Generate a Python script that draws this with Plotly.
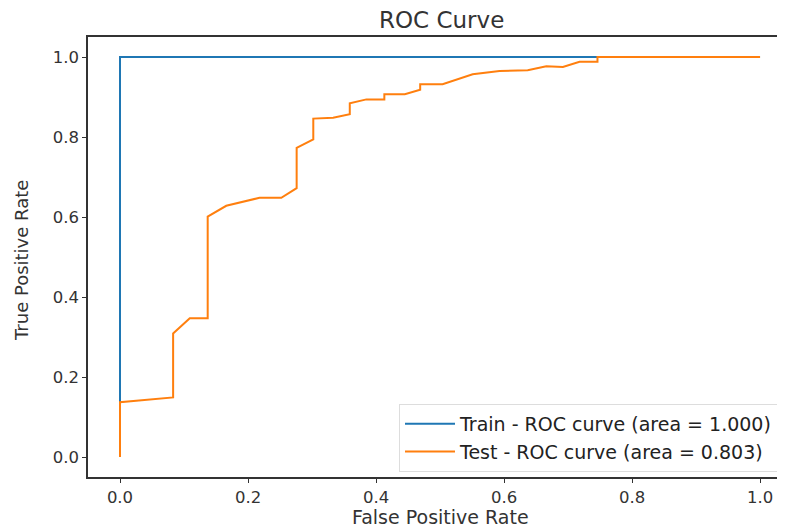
import plotly.graph_objects as go

train_fpr = [0.0, 0.0, 1.0]
train_tpr = [0.0, 1.0, 1.0]

test_fpr = [0.0, 0.0, 0.083, 0.083, 0.109, 0.137, 0.137, 0.166, 0.218, 0.252, 0.276, 0.276,
            0.302, 0.302, 0.333, 0.359, 0.359, 0.385, 0.413, 0.413, 0.445, 0.469, 0.469,
            0.504, 0.551, 0.593, 0.637, 0.666, 0.692, 0.718, 0.746, 0.746, 1.0]
test_tpr = [0.0, 0.137, 0.149, 0.309, 0.347, 0.347, 0.601, 0.628, 0.648, 0.648, 0.672, 0.773,
            0.794, 0.846, 0.848, 0.857, 0.884, 0.894, 0.894, 0.907, 0.907, 0.918, 0.932,
            0.932, 0.957, 0.965, 0.967, 0.977, 0.975, 0.988, 0.988, 1.0, 1.0]

train_label = "Train - ROC curve (area = 1.000)"
test_label = "Test - ROC curve (area = 0.803)"
tick_vals = [0.0, 0.2, 0.4, 0.6, 0.8, 1.0]
tick_text = ["0.0", "0.2", "0.4", "0.6", "0.8", "1.0"]

font = "DejaVu Sans"
W, H = 785, 529
OFF = 8  # page body margin in the browser
# target positions in screenshot pixels
PL, PR, PT, PB = 88, 785, 37, 477
L, T = PL - OFF, PT - OFF
R = W - (PR - OFF)
B = H - (PB - OFF)
PW, PH = W - L - R, H - T - B


def px_to_paper(sx, sy):
    fx, fy = sx - OFF, sy - OFF
    return (fx - L) / PW, (H - B - fy) / PH


fig = go.Figure()
fig.add_trace(go.Scatter(x=train_fpr, y=train_tpr, mode="lines", name=train_label,
                         line=dict(color="#1f77b4", width=2)))
fig.add_trace(go.Scatter(x=test_fpr, y=test_tpr, mode="lines", name=test_label,
                         line=dict(color="#ff7f0e", width=2)))

lx, ly = px_to_paper(778, 472)
xl_x, xl_y = px_to_paper(440, 517)
yl_x, yl_y = px_to_paper(22, 261)
tt_x, tt_y = px_to_paper(441, 20)

fig.update_layout(
    width=W, height=H,
    margin=dict(l=L, r=R, t=T, b=B, autoexpand=False),
    paper_bgcolor="white", plot_bgcolor="white",
    font=dict(family=font, size=16, color="#333333"),
    showlegend=True,
    legend=dict(x=lx, y=ly, xanchor="right", yanchor="bottom",
                bgcolor="rgba(255,255,255,0.9)", bordercolor="#dddddd", borderwidth=1,
                font=dict(size=19, color="#222222"), tracegroupgap=0, itemwidth=50),
    annotations=[
        dict(text="ROC Curve", x=tt_x, y=tt_y, xref="paper", yref="paper",
             showarrow=False, xanchor="center", yanchor="middle",
             font=dict(size=23, color="#333333")),
        dict(text="False Positive Rate", x=xl_x, y=xl_y, xref="paper", yref="paper",
             showarrow=False, xanchor="center", yanchor="middle",
             font=dict(size=19, color="#333333")),
        dict(text="True Positive Rate", x=yl_x, y=yl_y, xref="paper", yref="paper",
             showarrow=False, xanchor="center", yanchor="middle", textangle=-90,
             font=dict(size=18, color="#333333")),
    ],
)

fig.update_xaxes(range=[-0.05, 1.039], tickvals=tick_vals, ticktext=tick_text,
                 automargin=False, showgrid=False, zeroline=False, showline=True, mirror=True,
                 linecolor="#333333", linewidth=1.5, ticks="outside", ticklen=4,
                 tickcolor="#333333", tickfont=dict(size=16.5))
fig.update_yaxes(range=[-0.05, 1.05], tickvals=tick_vals, ticktext=tick_text,
                 automargin=False, showgrid=False, zeroline=False, showline=True, mirror=False,
                 linecolor="#333333", linewidth=1.5, ticks="outside", ticklen=4,
                 tickcolor="#333333", tickfont=dict(size=16.5))

fig.write_html("out.html")
